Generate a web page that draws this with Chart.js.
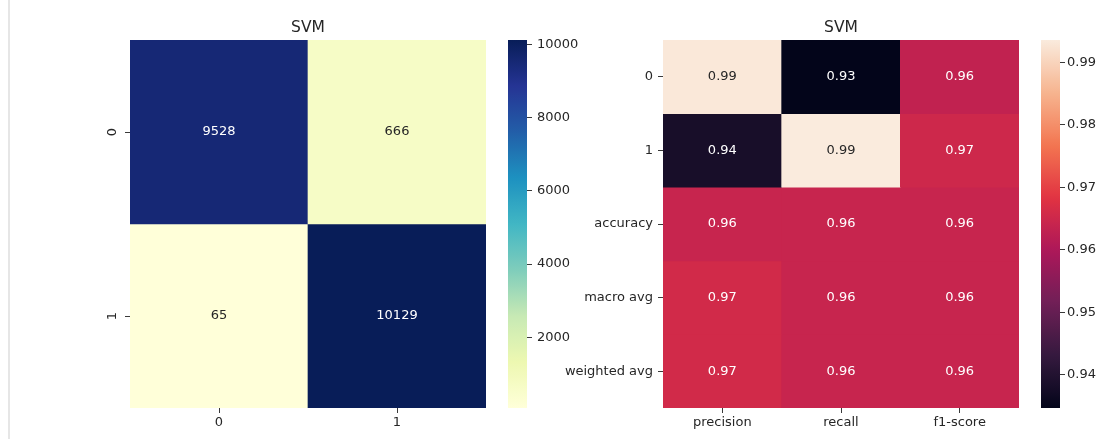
<!DOCTYPE html>
<html>
<head>
<meta charset="utf-8">
<title>SVM confusion matrix and classification report</title>
<script src="https://cdn.jsdelivr.net/npm/chart.js@4.4.0/dist/chart.umd.min.js"></script>
<style>
  html, body { margin: 0; padding: 0; background: #fff; overflow: hidden; }
  #page { position: relative; width: 1106px; height: 439px; background: #fff; }
  .panel { position: absolute; top: 0; }
  .rule { position: absolute; left: 8px; top: 0; width: 2px; height: 439px; background: #e6e6e6; }
</style>
</head>
<body>
<div id="page">
  <div class="rule"></div>
  <canvas id="cmHeat" class="panel" width="500" height="439" style="left:0px"></canvas>
  <canvas id="cmBar" class="panel" width="87" height="439" style="left:500px"></canvas>
  <canvas id="repHeat" class="panel" width="500" height="439" style="left:540px"></canvas>
  <canvas id="repBar" class="panel" width="75" height="439" style="left:1030px"></canvas>
</div>
<script>
// ---- confusion matrix ----
const cmRows = ['0', '1'];
const cmCols = ['0', '1'];
const cmRow0 = [9528, 666];
const cmRow1 = [65, 10129];
const cmTicks = [2000, 4000, 6000, 8000, 10000];

// ---- classification report (one array per metric column) ----
const repRows = ['0', '1', 'accuracy', 'macro avg', 'weighted avg'];
const repCols = ['precision', 'recall', 'f1-score'];
const precision = [0.9932, 0.9383, 0.9641, 0.9658, 0.9658];
const recall    = [0.9347, 0.9936, 0.9641, 0.9641, 0.9641];
const f1Score   = [0.9631, 0.9652, 0.9641, 0.9641, 0.9641];
const repTicks = [0.94, 0.95, 0.96, 0.97, 0.98, 0.99];

const TEXT = '#262626';
const TICK = '#3a3a3a';
Chart.defaults.font.family = "'DejaVu Sans', 'Liberation Sans', sans-serif";
Chart.defaults.font.size = 13;
Chart.defaults.color = TEXT;

// ---- colormaps ----
function hexRgb(h) {
  return [parseInt(h.slice(1, 3), 16), parseInt(h.slice(3, 5), 16), parseInt(h.slice(5, 7), 16)];
}
function evenStops(hexes) {
  return hexes.map((h, i) => [i / (hexes.length - 1), hexRgb(h)]);
}
const YLGNBU = evenStops(['#ffffd9', '#edf8b1', '#c7e9b4', '#7fcdbb', '#41b6c4',
                          '#1d91c0', '#225ea8', '#253494', '#081d58']);
const ROCKET = [
  [0, '#03051a'], [1 / 7, '#35193e'], [2 / 7, '#701f57'], [3 / 7, '#ad1759'],
  [4 / 7, '#e13342'], [5 / 7, '#f37651'], [6 / 7, '#f6b48f'], [1, '#faebdd']
].map(([t, h]) => [t, hexRgb(h)]);

function cmapRgb(stops, t) {
  t = Math.max(0, Math.min(1, t));
  for (let k = 1; k < stops.length; k++) {
    const [t1, c1] = stops[k];
    const [t0, c0] = stops[k - 1];
    if (t <= t1) {
      const f = (t - t0) / (t1 - t0);
      return c0.map((c, i) => Math.round(c + (c1[i] - c) * f));
    }
  }
  return stops[stops.length - 1][1];
}
const rgbStr = c => `rgb(${c[0]},${c[1]},${c[2]})`;

// dark text on light cells, white text on dark cells
function textOn(c) {
  const lin = c.map(v => { v /= 255; return v <= 0.03928 ? v / 12.92 : Math.pow((v + 0.055) / 1.055, 2.4); });
  const lum = 0.2126 * lin[0] + 0.7152 * lin[1] + 0.0722 * lin[2];
  return lum > 0.408 ? TEXT : '#ffffff';
}

// ---- plugins ----
const cellText = {
  id: 'cellText',
  afterDatasetsDraw(chart) {
    const ctx = chart.ctx;
    ctx.save();
    ctx.font = "13px 'DejaVu Sans', sans-serif";
    ctx.textAlign = 'center';
    ctx.textBaseline = 'middle';
    chart.data.datasets.forEach((ds, di) => {
      chart.getDatasetMeta(di).data.forEach((bar, j) => {
        const p = bar.getProps(['x', 'y', 'base'], true);
        ctx.fillStyle = ds.textColors[j];
        ctx.fillText(ds.cellLabels[j], p.x, (p.y + p.base) / 2);
      });
    });
    ctx.restore();
  }
};

function rotatedRowLabels(labels, offset) {
  return {
    id: 'rotatedRowLabels',
    afterDraw(chart) {
      const s = chart.scales.y;
      const ctx = chart.ctx;
      ctx.save();
      ctx.font = "13px 'DejaVu Sans', sans-serif";
      ctx.fillStyle = TEXT;
      ctx.textAlign = 'center';
      ctx.textBaseline = 'middle';
      labels.forEach((lab, i) => {
        ctx.save();
        ctx.translate(s.right - offset, s.getPixelForValue(i + 0.5));
        ctx.rotate(-Math.PI / 2);
        ctx.fillText(lab, 0, 0);
        ctx.restore();
      });
      ctx.restore();
    }
  };
}

const tickGrid = {
  display: true, drawOnChartArea: false, drawTicks: true,
  tickLength: 5, tickColor: TICK, tickWidth: 1, offset: false
};

// ---- heatmap: one floating-bar dataset per row ----
function heatmap(id, rows, cols, matrix, cmap, fmt, box, rotateRows) {
  const vals = matrix.flat();
  const vmin = Math.min(...vals), vmax = Math.max(...vals);
  const rgbOf = v => cmapRgb(cmap, (v - vmin) / (vmax - vmin));
  const datasets = rows.map((r, i) => ({
    label: r,
    data: cols.map(() => [i, i + 1]),
    backgroundColor: matrix[i].map(v => rgbStr(rgbOf(v))),
    textColors: matrix[i].map(v => textOn(rgbOf(v))),
    cellLabels: matrix[i].map(fmt),
    borderWidth: 0,
    barPercentage: 1,
    categoryPercentage: 1,
    grouped: false
  }));
  const plugins = [cellText];
  if (rotateRows) plugins.push(rotatedRowLabels(rows, 17));
  new Chart(document.getElementById(id), {
    type: 'bar',
    data: { labels: cols, datasets },
    plugins,
    options: {
      responsive: false, animation: false, devicePixelRatio: 1,
      layout: { padding: { left: box.padLeft, right: box.padRight, top: 0, bottom: 0 } },
      plugins: {
        legend: { display: false },
        tooltip: { enabled: false },
        title: {
          display: true, text: 'SVM', fullSize: false, color: TEXT,
          font: { size: 15.5, weight: 'normal', lineHeight: 1 },
          padding: { top: 19.75, bottom: 4.75 }
        }
      },
      scales: {
        x: {
          type: 'category', offset: true,
          grid: tickGrid, border: { display: false },
          ticks: { color: TEXT, padding: 2, maxRotation: 0, autoSkip: false },
          afterFit(s) { s.height = 31; }
        },
        y: {
          type: 'linear', min: 0, max: rows.length, reverse: true,
          grid: tickGrid, border: { display: false },
          ticks: {
            display: !rotateRows, color: TEXT, padding: 5, autoSkip: false,
            callback: (v, i) => rows[i]
          },
          afterBuildTicks(s) { s.ticks = rows.map((r, i) => ({ value: i + 0.5 })); },
          afterFit(s) { s.width = box.yWidth; }
        }
      }
    }
  });
  return { vmin, vmax };
}

// ---- colorbar: a single floating bar filled with the colormap ----
function colorbar(id, cmap, range, ticks, fmt, padLeft, yWidth, labelPad) {
  new Chart(document.getElementById(id), {
    type: 'bar',
    data: {
      labels: [''],
      datasets: [{
        data: [[range.vmin, range.vmax]],
        backgroundColor(c) {
          const a = c.chart.chartArea;
          if (!a) return 'transparent';
          const g = c.chart.ctx.createLinearGradient(0, a.bottom, 0, a.top);
          for (let k = 0; k <= 48; k++) g.addColorStop(k / 48, rgbStr(cmapRgb(cmap, k / 48)));
          return g;
        },
        borderWidth: 0, barPercentage: 1, categoryPercentage: 1
      }]
    },
    options: {
      responsive: false, animation: false, devicePixelRatio: 1,
      layout: { padding: { left: padLeft, right: 0, top: 40, bottom: 31 } },
      plugins: { legend: { display: false }, tooltip: { enabled: false } },
      scales: {
        x: { display: false, offset: true },
        y: {
          position: 'right', min: range.vmin, max: range.vmax,
          grid: tickGrid, border: { display: false },
          ticks: { color: TEXT, padding: labelPad, autoSkip: false, callback: v => fmt(v) },
          afterBuildTicks(s) { s.ticks = ticks.map(v => ({ value: v })); },
          afterFit(s) { s.width = yWidth; }
        }
      }
    }
  });
}

const cmMatrix = [cmRow0, cmRow1];
const cmRange = heatmap('cmHeat', cmRows, cmCols, cmMatrix, YLGNBU, v => String(v),
                        { padLeft: 100, padRight: 14, yWidth: 30 }, true);
colorbar('cmBar', YLGNBU, cmRange, cmTicks, v => String(v), 8, 60, 5);

const repMatrix = repRows.map((r, i) => [precision[i], recall[i], f1Score[i]]);
const repRange = heatmap('repHeat', repRows, repCols, repMatrix, ROCKET, v => v.toFixed(2),
                         { padLeft: 23, padRight: 21, yWidth: 100 }, false);
colorbar('repBar', ROCKET, repRange, repTicks, v => v.toFixed(2), 11, 45, 2);
</script>
</body>
</html>
